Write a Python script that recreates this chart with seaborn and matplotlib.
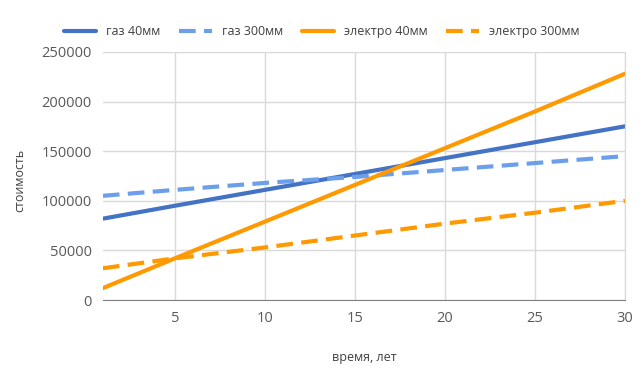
import pandas as pd
import seaborn as sns
import matplotlib.pyplot as plt

years = [1, 5, 10, 15, 20, 25, 30]
gas_40 = [82000, 95000, 111000, 127000, 143000, 159000, 175000]
gas_300 = [105000, 111000, 118000, 124000, 131000, 138000, 145000]
el_40 = [12000, 42000, 79000, 116000, 153000, 190000, 228000]
el_300 = [32000, 42000, 53000, 65000, 77000, 88000, 100000]
series_names = ['газ 40мм', 'газ 300мм', 'электро 40мм', 'электро 300мм']

df = pd.DataFrame({
    'год': years * 4,
    'стоимость': gas_40 + gas_300 + el_40 + el_300,
    'серия': [n for n in series_names for _ in years],
})

sns.set_style('white')
plt.rcParams['font.family'] = ['Open Sans', 'DejaVu Sans']

palette = {'газ 40мм': '#4472C4', 'газ 300мм': '#6D9EEB',
           'электро 40мм': '#FF9900', 'электро 300мм': '#FF9900'}
dashes = {'газ 40мм': '', 'газ 300мм': (4, 2),
          'электро 40мм': '', 'электро 300мм': (4, 2)}

fig = plt.figure(figsize=(6.43, 3.76), dpi=100)
ax = fig.add_axes([0.160, 0.202, 0.812, 0.660])

sns.lineplot(data=df, x='год', y='стоимость', hue='серия', style='серия',
             palette=palette, dashes=dashes, linewidth=3.0, ax=ax,
             hue_order=series_names, style_order=series_names)

ax.set_xlim(1, 30)
ax.set_ylim(0, 250000)
ax.set_xticks([5, 10, 15, 20, 25, 30])
ax.set_yticks(range(0, 250001, 50000))
ax.grid(True, color='#D9D9D9', linewidth=1)
ax.set_axisbelow(True)
for s in ['top', 'left']:
    ax.spines[s].set_visible(False)
ax.spines['right'].set_color('#D9D9D9')
ax.spines['bottom'].set_color('#808080')
ax.tick_params(length=0, labelsize=10.5, colors='#595959', pad=8)
ax.set_xlabel('время, лет', fontsize=9, color='#404040')
ax.set_ylabel('стоимость', fontsize=9, color='#404040')
ax.xaxis.set_label_coords(0.5, -0.205)
ax.yaxis.set_label_coords(-0.146, 0.48)

handles, labels = ax.get_legend_handles_labels()
ax.legend(handles, labels, loc='center', bbox_to_anchor=(0.5, 0.915),
          bbox_transform=fig.transFigure, ncol=4, frameon=False,
          fontsize=9, handlelength=2.6, columnspacing=1.5, handletextpad=0.8,
          labelcolor='#404040')

fig.savefig('out.png', dpi=100)
